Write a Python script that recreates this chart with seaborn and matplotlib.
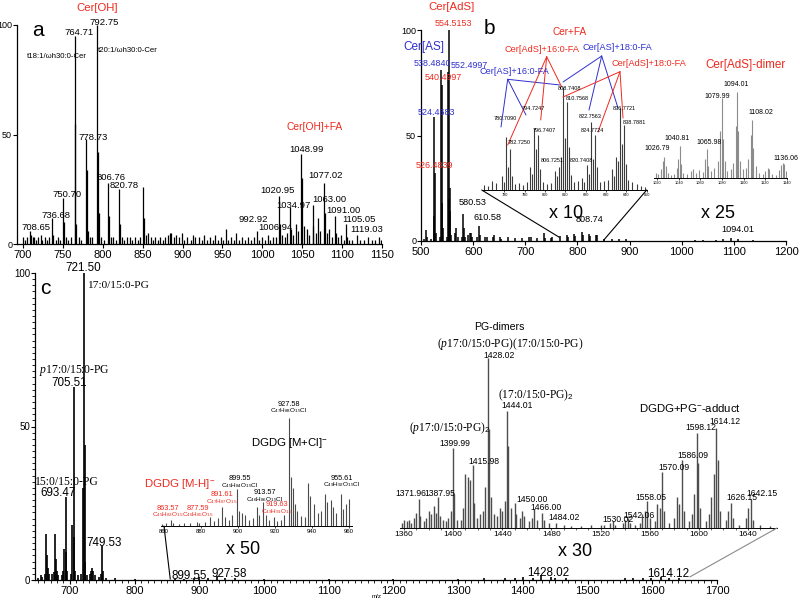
import matplotlib
matplotlib.use("Agg")
import matplotlib.pyplot as plt
from matplotlib.patches import ConnectionPatch
from matplotlib.lines import Line2D
from matplotlib.ticker import MultipleLocator
import seaborn as sns

sns.set_style("ticks", {"axes.edgecolor": "black", "xtick.color": "black",
                        "ytick.color": "black", "text.color": "black"})
plt.rcParams["font.family"] = ["Liberation Sans", "DejaVu Sans"]
plt.rcParams.update({
    "mathtext.fontset": "custom",
    "mathtext.rm": "Liberation Sans",
    "mathtext.it": "Liberation Serif:italic",
    "mathtext.bf": "Liberation Sans:bold",
})

RED = "#ee2a1f"
BLUE = "#2f2fcf"
SERIF = ["Liberation Serif", "DejaVu Serif"]

# ---------------- data: (m/z, relative intensity %) ----------------
a_peaks = [(700.6, 3), (703, 2), (705, 3), (708.65, 6), (710, 4), (712, 3), (714, 3), (716, 2), (719, 3),
           (722, 4), (724, 2), (727, 3), (730, 2), (733, 3), (736.68, 12), (738, 4), (741, 2), (744, 3),
           (747, 2), (750.70, 21), (751.7, 10), (754, 3), (757, 2), (760, 3), (764.71, 95), (765.7, 55),
           (767, 9), (770, 3), (773, 2), (778.73, 48), (779.7, 34), (781, 6), (784, 3), (787, 3),
           (792.75, 100), (793.7, 42), (795, 14), (798, 3), (801, 2), (806.76, 28), (807.8, 13), (810, 3),
           (813, 3), (816, 2), (820.78, 25), (821.8, 9), (824, 3), (827, 2), (830, 3), (834, 3), (837, 2),
           (840, 3), (844, 2), (847, 3), (850.8, 26), (851.8, 12), (854, 4), (857, 5), (860, 3), (863, 2),
           (866, 3), (869, 2), (872, 3), (875, 2), (878, 3), (882, 4), (884, 5), (886, 5), (889, 3),
           (892, 4), (896, 3), (899, 5), (902, 2), (906, 3), (910, 2), (913, 4), (916, 3), (920, 3),
           (924, 2), (927, 4), (931, 2), (934, 3), (938, 2), (941, 4), (944, 2), (948, 3), (951, 2),
           (954, 7), (957, 2), (961, 3), (964, 2), (967, 5), (971, 2), (975, 3), (978, 2), (982, 3),
           (986, 2), (989, 3), (992.92, 6), (996, 2), (999, 3), (1003, 2), (1006.94, 4), (1010, 2),
           (1013, 3), (1017, 3), (1020.95, 22), (1022, 9), (1025, 4), (1028, 3), (1031, 5), (1034.97, 17),
           (1036, 7), (1039, 4), (1042, 9), (1045, 6), (1048.99, 41), (1050, 30), (1052, 8), (1056, 7),
           (1059, 4), (1063.00, 18), (1064, 8), (1067, 5), (1070, 12), (1072, 6), (1077.02, 28),
           (1078, 14), (1081, 5), (1084, 7), (1087, 3), (1091.00, 13), (1092, 5), (1095, 3), (1098, 4),
           (1102, 2), (1105.05, 9), (1106, 3), (1109, 2), (1113, 2), (1119.03, 4), (1122, 2), (1127, 2),
           (1133, 3), (1137, 2), (1141, 2), (1146, 3), (1149, 2)]
a_labels = [708.65, 736.68, 750.70, 764.71, 778.73, 792.75, 806.76, 820.78, 992.92, 1006.94,
            1020.95, 1034.97, 1048.99, 1063.00, 1077.02, 1091.00, 1105.05, 1119.03]

b_peaks = [(505, 1), (510.5, 5), (512, 2), (520, 1), (524.47, 59), (525.5, 12), (526.48, 32), (528, 4),
           (536, 2), (538.48, 81), (539.5, 18), (540.50, 74), (542, 6), (550, 2), (552.50, 80),
           (553.5, 20), (554.52, 100), (555.5, 25), (556.5, 14), (558, 3), (566, 4), (568, 6), (570, 2),
           (578, 2), (580.53, 13), (582.5, 6), (584, 2), (590, 3), (594, 4), (596, 4), (598, 2),
           (608, 2), (610.58, 7), (612.5, 3), (622, 2), (626, 2), (638, 2), (640, 3), (652, 2),
           (654, 1), (666, 2), (680, 1.5), (694, 1.5), (708, 2), (710, 2), (722, 1.5), (736, 4),
           (738, 1.5), (750, 1.5), (752, 2), (766, 2.5), (780, 3), (782, 2), (794, 3.5), (796, 2.5),
           (808.74, 4.5), (810, 3), (822, 3.5), (824, 2.5), (836, 3), (838, 3), (850, 1), (866, 1),
           (880, 1), (894, 0.8), (1026, 0.6), (1040, 0.6), (1066, 0.6), (1080, 1), (1094, 1.2),
           (1108, 1), (1136, 0.6)]
b_labels = [554.5153, 538.4840, 552.4997, 540.4997, 524.4683, 526.4839]
b_label_colors = [RED, BLUE, BLUE, RED, BLUE, RED]
b_small_labels = [580.53, 610.58, 808.74, 1094.01]

b10_peaks = [(770, 5), (772, 4), (774, 9), (776, 7), (778.7, 14), (779.7, 8), (780.71, 51), (781.7, 22),
             (782.73, 40), (783.7, 14), (785, 6), (787, 7), (789, 5), (791, 8), (792.7, 22), (793.7, 16),
             (794.72, 60), (795.7, 40), (796.74, 53), (797.7, 20), (799, 8), (801, 6), (803, 7),
             (804.7, 18), (805.7, 14), (806.73, 22), (807.7, 32), (808.74, 100), (809.7, 50),
             (810.76, 85), (811.7, 42), (812.7, 15), (814, 8), (816, 9), (818, 12), (819, 8),
             (820.74, 24), (821.7, 16), (822.76, 66), (823.7, 30), (824.77, 53), (825.7, 22), (827, 8),
             (829, 9), (831, 10), (832.7, 20), (833.7, 14), (834.7, 32), (835.7, 28), (836.77, 80),
             (837.7, 45), (838.79, 63), (839.7, 25), (841, 10), (843, 8), (845, 6), (847, 4), (849, 3)]
b10_labels = [808.7408, 810.7568, 836.7721, 780.7090, 794.7247, 822.7563, 838.7881, 824.7724,
              796.7407, 782.7250, 806.7251, 820.7408]

b25_peaks = [(1019, 6), (1021, 5), (1024, 10), (1025.5, 20), (1026.79, 25), (1028, 14), (1030, 6),
             (1033, 4), (1036, 5), (1038, 12), (1039.5, 22), (1040.81, 37), (1042, 16), (1044, 6),
             (1048, 5), (1051, 8), (1053, 10), (1056, 6), (1059, 9), (1062, 7), (1064.5, 22),
             (1065.98, 34), (1067, 14), (1070, 8), (1073, 12), (1076, 20), (1078.5, 55), (1079.99, 93),
             (1081, 45), (1082.5, 20), (1085, 8), (1088, 10), (1090, 18), (1092.5, 60), (1094.01, 100),
             (1095, 55), (1096.5, 20), (1099, 10), (1102, 12), (1104, 22), (1106.5, 50), (1108.02, 67),
             (1109, 35), (1111, 14), (1114, 6), (1118, 5), (1120, 8), (1122, 12), (1123.5, 10),
             (1126, 5), (1130, 4), (1133, 9), (1134.5, 15), (1136.06, 17), (1137.5, 16), (1139, 8)]
b25_labels = [1094.01, 1079.99, 1108.02, 1040.81, 1026.79, 1065.98, 1136.06]

c_peaks = [(650, 0.8), (655, 1.5), (657, 1), (661, 2), (663.5, 15), (664.5, 8), (666, 4), (668, 2),
           (672, 2), (675, 2.5), (677.5, 15), (678.5, 7), (680, 3), (682, 1.5), (687, 1.5), (689, 3),
           (691.5, 10), (693.47, 27), (694.5, 9), (696, 3), (701, 2), (703.5, 18), (705.51, 63),
           (706.5, 14), (708, 3), (712, 1.5), (717, 2), (719.5, 30), (721.50, 100), (722.5, 44),
           (724, 6), (727, 1.5), (731, 2), (733, 3), (734.5, 4), (736, 3), (738, 1.5), (745, 1),
           (747.5, 2), (749.53, 11), (750.5, 3), (755, 0.6), (770, 0.5), (800, 0.4), (863, 0.4),
           (877, 0.4), (891, 0.5), (899.55, 0.9), (913, 0.6), (927.58, 1.3), (940, 0.6), (955, 0.6),
           (1000, 0.3), (1100, 0.3), (1200, 0.3), (1300, 0.4), (1340, 0.6), (1372, 0.6), (1388, 0.6),
           (1400, 0.9), (1416, 0.8), (1428.02, 1.5), (1444.01, 1.1), (1450, 0.6), (1466, 0.5),
           (1558, 0.5), (1570, 0.6), (1586, 0.7), (1598, 0.8), (1614.12, 0.9), (1626, 0.5), (1642, 0.5)]
c_labels = [721.50, 705.51, 693.47, 749.53, 899.55, 927.58, 1428.02, 1614.12]

c50_peaks = [(859, 2), (861, 3), (863.57, 6), (865, 3), (868, 2), (871, 3), (874, 3), (877.59, 4),
             (879, 3), (882, 4), (885, 8), (887, 5), (889, 7), (891.61, 18), (893, 8), (895, 6),
             (897, 10), (899.55, 34), (900.5, 14), (902, 12), (904, 10), (906, 6), (908, 7), (910, 18),
             (911.5, 10), (913.57, 22), (915, 10), (917, 6), (919.63, 8), (921, 5), (923, 6), (925, 10),
             (927.58, 100), (928.6, 45), (929.6, 35), (931, 20), (932, 14), (934, 9), (936, 8),
             (938, 40), (939, 28), (941, 20), (943, 12), (945, 14), (947, 30), (948, 22), (950, 24),
             (951.5, 18), (953, 12), (955.61, 30), (957, 16), (958.5, 20), (960, 25)]
c50_cl_labels = [927.58, 899.55, 913.57, 955.61]
c50_cl_formula = [(47, 88), (45, 84), (46, 86), (49, 92)]
c50_mh_labels = [891.61, 863.57, 877.59, 919.63]
c50_mh_formula = [(47, 87), (45, 83), (46, 85), (49, 91)]

c30_peaks = [(1358, 3), (1360, 5), (1362, 4), (1364, 5), (1366, 3), (1368, 6), (1369.5, 9),
             (1371.96, 17), (1373, 7), (1376, 4), (1378, 6), (1380, 10), (1382, 8), (1384, 13),
             (1386, 9), (1387.95, 18), (1389, 7), (1392, 5), (1394, 4), (1396, 6), (1398, 10),
             (1399.99, 47), (1401, 20), (1403, 5), (1406, 5), (1408, 12), (1410, 32), (1412, 30),
             (1414, 28), (1415.98, 37), (1417, 15), (1419, 6), (1422, 8), (1424, 10), (1426, 24),
             (1428.02, 100), (1429, 58), (1431, 18), (1433, 8), (1436, 7), (1438, 12), (1440, 10),
             (1442, 16), (1444.01, 69), (1445, 48), (1447, 12), (1450.00, 15), (1451, 8), (1454, 6),
             (1456, 10), (1458, 7), (1462, 4), (1464, 6), (1466.00, 11), (1468, 5), (1472, 9),
             (1474, 5), (1478, 3), (1484.02, 3), (1490, 1.5), (1496, 1), (1504, 1), (1512, 1.5),
             (1520, 2), (1523, 1.5), (1528, 3), (1530.02, 4), (1532, 2), (1538, 3), (1540, 5),
             (1542.06, 6), (1544, 3), (1548, 2), (1552, 3), (1554, 8), (1556, 10), (1558.05, 16),
             (1560, 6), (1564, 4), (1566, 14), (1568, 12), (1570.09, 33), (1572, 10), (1576, 3),
             (1580, 6), (1582, 18), (1584, 14), (1586.09, 40), (1588, 10), (1592, 4), (1594, 8),
             (1596, 20), (1598.12, 56), (1599.5, 38), (1601, 12), (1606, 4), (1608, 8), (1610, 18),
             (1612, 32), (1614.12, 59), (1615.5, 40), (1617, 10), (1622, 5), (1624, 10), (1626.15, 15),
             (1628, 6), (1633, 2), (1638, 6), (1640, 12), (1642.15, 17), (1644, 5), (1650, 1.5),
             (1658, 1)]
c30_labels = [1428.02, 1444.01, 1399.99, 1415.98, 1371.96, 1387.95, 1450.00, 1466.00, 1484.02,
              1530.02, 1542.06, 1558.05, 1570.09, 1586.09, 1598.12, 1614.12, 1626.15, 1642.15]

# ---------------- layout (pixel positions in the 800x601 figure) ----------------
W, H = 800, 601
a_label_xy = [(36, 230), (56, 218), (67.5, 197), (79, 35), (93, 140), (104, 25), (111.5, 180),
              (124, 188), (253, 222), (275, 230), (277.5, 193), (293, 208), (306, 152), (329, 202),
              (326, 178), (343, 213), (359, 222), (367, 232)]
b_label_xy = [(453, 23), (432, 63), (469, 65), (443, 77), (436, 112), (434, 165)]
b_small_xy = [(473, 203), (487, 218), (589, 220), (738, 229)]
b10_label_xy = [(570, 89), (577, 99), (624, 108), (505, 119), (533, 108), (590, 116), (634, 122),
                (592, 131), (544, 130), (519, 142), (552, 161), (581, 161)]
b25_label_xy = [(736, 85), (717.5, 97), (761, 112), (677, 139), (657, 149), (709, 143), (786, 159)]
c_label_xy = [(83, 268), (69, 383), (58, 493), (104, 543), (189, 576), (229, 574), (548, 573),
              (668, 574)]
c50_cl_xy = [(289, 404), (240, 479), (265, 493), (342, 478)]
c50_mh_xy = [(222, 495), (168, 508), (198, 508), (277, 505)]
c30_label_xy = [(499, 355), (517, 406), (455, 444), (484, 462), (411, 493), (440, 493), (532, 500),
                (546, 507), (564, 517), (618, 519), (639, 515), (651, 497), (674, 467), (693, 456),
                (701, 428), (725, 422), (742, 498), (762, 493)]

fig = plt.figure(figsize=(8.0, 6.01), dpi=100)


def px_rect(l, t, r, b):
    return [l / W, 1 - b / H, (r - l) / W, (b - t) / H]


def ftext(x, y, s, size, color="black", va="center", **kw):
    fig.text(x / W, 1 - y / H, s, fontsize=size, color=color, ha="center", va=va, **kw)


def fline(pts, color, lw=0.7):
    fig.add_artist(Line2D([p[0] / W for p in pts], [1 - p[1] / H for p in pts],
                          color=color, lw=lw, transform=fig.transFigure))


def stick(ax, peaks, color, lw):
    mz, h = zip(*peaks)
    ax.vlines(mz, 0, h, color=color, lw=lw)


def main_axes(rect, peaks, xlim, xstep, lw):
    ax = fig.add_axes(px_rect(*rect))
    stick(ax, peaks, "black", lw)
    ax.set_xlim(*xlim)
    ax.set_ylim(0, 100)
    ax.xaxis.set_major_locator(MultipleLocator(xstep))
    ax.set_yticks([0, 50, 100])
    sns.despine(ax=ax)
    for s in ["left", "bottom"]:
        ax.spines[s].set_linewidth(0.9)
    ax.tick_params(axis="x", labelsize=8, length=3, width=0.8, pad=1)
    ax.tick_params(axis="y", labelsize=6.5, length=3, width=0.8, pad=0.5)
    return ax


def inset_axes(rect, peaks, xlim, ticks, color, lw, labelsize):
    ax = fig.add_axes(px_rect(*rect))
    ax.patch.set_alpha(0)
    stick(ax, peaks, color, lw)
    ax.set_xlim(*xlim)
    ax.set_ylim(0, 100)
    ax.set_xticks(ticks)
    ax.set_yticks([])
    sns.despine(ax=ax, left=True)
    ax.spines["bottom"].set_linewidth(0.7)
    ax.tick_params(axis="x", labelsize=labelsize, length=1.5, width=0.5, pad=0.5)
    return ax


def connect(ax_in, p_in, ax_main, p_main, color, lw=0.8):
    fig.add_artist(ConnectionPatch(xyA=p_in, coordsA="data", axesA=ax_in,
                                   xyB=p_main, coordsB="data", axesB=ax_main,
                                   color=color, lw=lw))


# ---------------- panel a ----------------
ax_a = main_axes((17, 25, 382, 244), a_peaks, (692.5, 1150), 50, 0.9)
for mz, (x, y) in zip(a_labels, a_label_xy):
    ftext(x, y, f"{mz:.2f}", 6.8, va="baseline")
ftext(97, 8, "Cer[OH]", 8.2, RED)
ftext(38, 30, "a", 15)
ftext(57, 57, "t18:1/ωh30:0-Cer", 5.6)
ftext(128, 51, "t20:1/ωh30:0-Cer", 5.6)
ftext(315, 127, "Cer[OH]+FA", 7.4, RED)

# ---------------- panel b ----------------
ax_b = main_axes((421, 30, 786, 241), b_peaks, (500, 1200), 100, 1.1)
for mz, c, (x, y) in zip(b_labels, b_label_colors, b_label_xy):
    ftext(x, y, f"{mz:.4f}", 6.4, c)
for mz, (x, y) in zip(b_small_labels, b_small_xy):
    ftext(x, y, f"{mz:.2f}", 6.6)
ftext(452, 7, "Cer[AdS]", 8.2, RED)
ftext(489, 29, "b", 15)
ftext(424, 47, "Cer[AS]", 8.5, BLUE)
ftext(570, 32, "Cer+FA", 7.2, RED)
ftext(542, 49, "Cer[AdS]+16:0-FA", 6.6, RED)
ftext(617, 48, "Cer[AS]+18:0-FA", 6.6, BLUE)
ftext(649, 64, "Cer[AdS]+18:0-FA", 6.6, RED)
ftext(514, 72, "Cer[AS]+16:0-FA", 6.6, BLUE)
ftext(745, 65, "Cer[AdS]-dimer", 8.4, RED)
ftext(566, 213, "x 10", 13)
ftext(718, 213, "x 25", 13)

ax_b10 = inset_axes((481.7, 87, 646.7, 190), b10_peaks, (768.8, 850), range(780, 851, 10),
                    "#3c3c3c", 0.8, 2.8)
for mz, (x, y) in zip(b10_labels, b10_label_xy):
    ftext(x, y, f"{mz:.4f}", 4.0)
ax_b25 = inset_axes((654, 92, 787, 178), b25_peaks, (1017.2, 1140), range(1020, 1141, 20),
                    "#8c8c8c", 0.8, 2.8)
for mz, (x, y) in zip(b25_labels, b25_label_xy):
    ftext(x, y, f"{mz:.2f}", 5.0)

# group connector lines (Cer + fatty acid assignments)
for apex, ends, col in [((507.7, 79.3), [(501, 127), (526, 115), (560, 85)], BLUE),
                        ((546.7, 56.7), [(507.7, 145), (540.7, 120), (561.7, 87)], RED),
                        ((601.7, 56), [(563, 82), (589, 110), (618, 108)], BLUE),
                        ((620, 71.7), [(563, 97), (598, 132), (623, 118)], RED)]:
    for e in ends:
        fline([apex, e], col, 0.7)

connect(ax_b10, (768.8, 0), ax_b, (765, 1.8), "black")
connect(ax_b10, (850, 0), ax_b, (850, 0.3), "black")
connect(ax_b25, (1017.2, -4), ax_b, (1030, 0.3), "black")
connect(ax_b25, (1140, -4), ax_b, (1130, 0.8), "black")

# ---------------- panel c ----------------
ax_c = main_axes((35, 273, 717, 580), c_peaks, (646, 1700), 100, 1.2)
ax_c.xaxis.set_minor_locator(MultipleLocator(10))
ax_c.yaxis.set_minor_locator(MultipleLocator(2))
ax_c.tick_params(axis="y", labelsize=7)
ax_c.tick_params(which="minor", length=2, width=0.6)
for mz, (x, y) in zip(c_labels, c_label_xy):
    ftext(x, y, f"{mz:.2f}", 8.4)
ftext(45, 288, "c", 15)
ftext(118, 285, "17:0/15:0-PG", 8.2, family=SERIF)
ftext(74, 370, r"$\mathit{p}$17:0/15:0-PG", 8.4, family=SERIF)
ftext(67, 482, "15:0/15:0-PG", 8.4, family=SERIF)
ftext(243, 549, "x 50", 13)
ftext(575, 552, "x 30", 13)
ftext(377, 597, "m/z", 4.5)

ax_c50 = inset_axes((161, 418, 352, 526), c50_peaks, (858.4, 961.6), range(860, 961, 20),
                    "#4a4a4a", 0.8, 4.3)
for mz, (nc, nh), (x, y) in zip(c50_cl_labels, c50_cl_formula, c50_cl_xy):
    ftext(x, y, f"{mz:.2f}", 5.3)
    ftext(x, y + 7, rf"C$_{{{nc}}}$H$_{{{nh}}}$O$_{{15}}$Cl", 4.6)
for mz, (nc, nh), (x, y) in zip(c50_mh_labels, c50_mh_formula, c50_mh_xy):
    ftext(x, y, f"{mz:.2f}", 5.3, RED)
    ftext(x, y + 7, rf"C$_{{{nc}}}$H$_{{{nh}}}$O$_{{15}}$", 4.6, RED)
ftext(289, 443, r"DGDG [M+Cl]$^{-}$", 8.2)
ftext(180, 484, r"DGDG [M-H]$^{-}$", 8.2, RED)

ax_c30 = inset_axes((400, 358, 777, 528), c30_peaks, (1356.7, 1663.6), range(1360, 1641, 40),
                    "#4d4d4d", 1.0, 6.0)
ax_c30.xaxis.set_minor_locator(MultipleLocator(10))
ax_c30.tick_params(which="minor", length=1.2, width=0.4)
for mz, (x, y) in zip(c30_labels, c30_label_xy):
    ftext(x, y, f"{mz:.2f}", 6.2)
ftext(499, 327, "PG-dimers", 7.6)
ftext(510, 344, r"($\mathit{p}$17:0/15:0-PG)(17:0/15:0-PG)", 8.3, family=SERIF)
ftext(536, 395, r"(17:0/15:0-PG)$_{2}$", 8.3, family=SERIF)
ftext(450, 428, r"($\mathit{p}$17:0/15:0-PG)$_{2}$", 8.3, family=SERIF)
ftext(690, 408, r"DGDG+PG$^{-}$-adduct", 8.2)

connect(ax_c50, (860, 0), ax_c, (855, 0.3), "black")
connect(ax_c50, (961.6, -7), ax_c, (952, 0.3), "black")
connect(ax_c30, (1366, -7), ax_c, (1370, 0.2), "#8a8a8a")
connect(ax_c30, (1663.6, 0), ax_c, (1658, 1.0), "#8a8a8a")

fig.savefig("out.png", dpi=100)
